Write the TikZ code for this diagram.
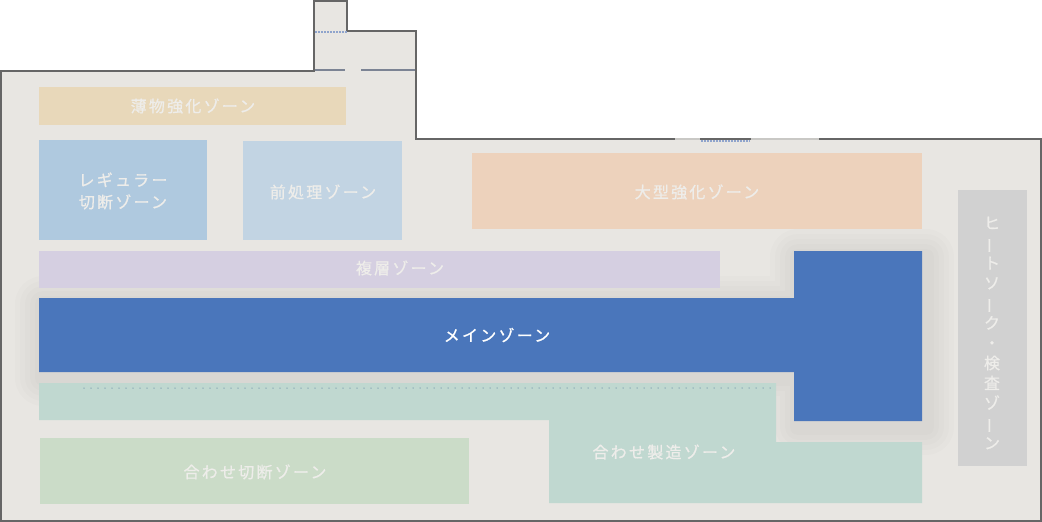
\documentclass[tikz,border=0pt]{standalone}
\usepackage{fontspec}
\usepackage{graphicx}
\setmainfont[FakeBold=0.8]{Noto Sans CJK JP}
\newfontfamily\jpfont[LetterSpace=14,FakeBold=0.8]{Noto Sans CJK JP}
\definecolor{floor}{HTML}{E8E6E2}
\definecolor{wall}{HTML}{666666}
\definecolor{gapwall}{HTML}{C9C8C5}
\definecolor{innerwall}{HTML}{7C8494}
\definecolor{doorblue}{HTML}{8FA4CC}
\definecolor{zthin}{HTML}{E8D8BA}
\definecolor{zreg}{HTML}{AFC9DF}
\definecolor{zpre}{HTML}{C2D4E3}
\definecolor{zlarge}{HTML}{EDD2BC}
\definecolor{zmulti}{HTML}{D5CFE1}
\definecolor{zmain}{HTML}{4A76BB}
\definecolor{zlam}{HTML}{C0D8D0}
\definecolor{zlamcut}{HTML}{CBDCC8}
\definecolor{zheat}{HTML}{D1D1D1}
\definecolor{zlabel}{HTML}{EEEDEA}
\definecolor{dotline}{HTML}{86A6B4}
\tikzset{
  zone/.style={draw=none},
  zlab/.style={text=zlabel, font=\jpfont\fontsize{16}{22}\selectfont, align=center, inner sep=0pt},
  mainshape/.style={insert path={(39,298) -- (794,298) -- (794,251) -- (922,251) -- (922,421) -- (794,421) -- (794,372) -- (39,372) -- cycle}},
  outline/.style={draw=wall, line width=2pt, line join=miter},
}
\begin{document}
\begin{tikzpicture}[x=1pt,y=-1pt]
\useasboundingbox (0,0) rectangle (1042,522);
% floor
\fill[floor] (1,71) -- (314,71) -- (314,1) -- (347,1) -- (347,31) -- (416,31) -- (416,139) -- (1041,139) -- (1041,521) -- (1,521) -- cycle;
% shadow of main zone
\begin{scope}[shift={(4,6)}]
\foreach \w in {56,46,36,26,16} {
  \path[draw=black, opacity=0.011, line width=\w pt, line join=round, mainshape];
}
\end{scope}
% zones
\fill[zthin] (39,87) rectangle (346,125);
\fill[zreg] (39,140) rectangle (207,240);
\fill[zpre] (243,141) rectangle (402,240);
\fill[zlarge] (472,153) rectangle (922,229);
\fill[zmulti] (39,251) rectangle (720,288);
\fill[zmain, mainshape];
\fill[zlam] (39,383) -- (776,383) -- (776,442) -- (922,442) -- (922,503) -- (549,503) -- (549,420) -- (39,420) -- cycle;
\draw[dotline, line width=1.5pt, line cap=round, dash pattern=on 0pt off 7pt] (84,388) -- (772,388);
\fill[zlamcut] (40,438) rectangle (469,504);
\fill[zheat] (958,190) rectangle (1027,466);
% labels
\node[zlab] (thin) at (193,106) {薄物強化ゾーン};
\node[zlab] (reg) at (123,191) {レギュラー\\切断ゾーン};
\node[zlab] (pre) at (323,192) {前処理ゾーン};
\node[zlab] (large) at (697,192) {大型強化ゾーン};
\node[zlab] (multi) at (400,268) {複層ゾーン};
\node[zlab, text=white] (main) at (497,335) {メインゾーン};
\node[zlab] (lam) at (664,452) {合わせ製造ゾーン};
\node[zlab] (lamcut) at (255,472) {合わせ切断ゾーン};
\node[text=zlabel, font=\fontsize{16}{20}\selectfont, align=center, inner sep=0pt] (heat) at (992,333)
  {ヒ\\\rotatebox[origin=c]{90}{ー}\\ト\\ソ\\\rotatebox[origin=c]{90}{ー}\\ク\\・\\検\\査\\ゾ\\\rotatebox[origin=c]{90}{ー}\\ン};
% inner walls of annex
\draw[innerwall, line width=2pt] (315,70) -- (345,70);
\draw[innerwall, line width=2pt] (361,70) -- (415,70);
\draw[doorblue, line width=1.2pt, dash pattern=on 1.5pt off 1.5pt] (315,32) -- (347,32);
\draw[doorblue, line width=1.2pt, dash pattern=on 1.5pt off 1.5pt] (701,141) -- (750,141);
% outer walls
\draw[outline] (347,31) -- (416,31) -- (416,139) -- (1041,139) -- (1041,521) -- (1,521) -- (1,71) -- (314,71) -- (314,1) -- (347,1) -- (347,31);
\draw[gapwall, line width=2.2pt] (675,139) -- (700,139);
\draw[gapwall, line width=2.2pt] (751,139) -- (819,139);
\end{tikzpicture}
\end{document}
